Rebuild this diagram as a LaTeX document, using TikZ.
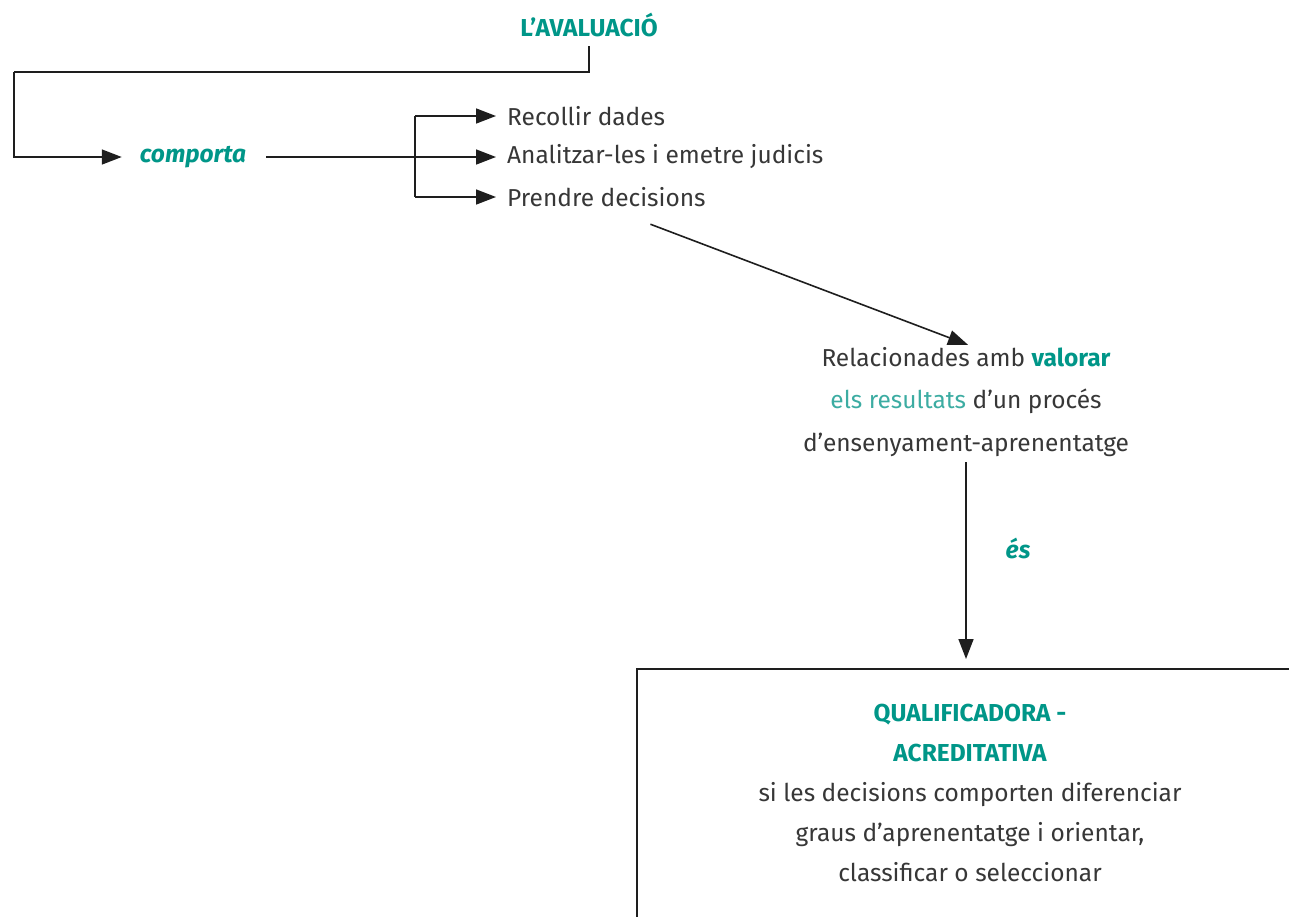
\documentclass[tikz,border=0pt]{standalone}
\usepackage{fontspec}
\setmainfont{Fira Sans}
\usetikzlibrary{arrows.meta,calc}
\definecolor{avteal}{RGB}{0,150,136}
\definecolor{avteallt}{RGB}{60,172,162}
\definecolor{avtext}{RGB}{55,55,55}
\definecolor{avline}{RGB}{30,30,30}
\begin{document}
\begin{tikzpicture}[x=1pt,y=-1pt,
  every node/.style={font=\fontsize{24.5}{28}\selectfont, text=avtext},
  title/.style={font=\fontsize{24.5}{28}\selectfont\bfseries, text=avteal},
  kw/.style={font=\fontsize{24.5}{28}\selectfont\bfseries\itshape, text=avteal},
  item/.style={anchor=west, inner xsep=0pt},
  conn/.style={draw=avline, line width=1.6pt},
  arr/.style={conn, -{Triangle[length=20pt,width=15pt]}},
  boxnode/.style={draw=avline, line width=1.8pt, anchor=north, inner xsep=0pt, inner ysep=35pt, minimum width=666pt},
]
\useasboundingbox (0,0) rectangle (1289,916);
\clip (0,0) rectangle (1289,916);

% nodes
\node[title] (aval) at (589,25) {L’AVALUACIÓ};
\node[kw, inner xsep=16pt] (comp) at (193,157) {comporta};
\node[item] (r1) at (507,116) {Recollir dades};
\node[item] (r2) at (507,157) {Analitzar-les i emetre judicis};
\node[item] (r3) at (507,197) {Prendre decisions};
\node[align=center, font=\fontsize{24.5}{42.5}\selectfont] (rel) at (966,402)
  {Relacionades amb \textcolor{avteal}{\bfseries valorar}\\
   \textcolor{avteallt}{els resultats} d’un procés\\
   d’ensenyament-aprenentatge};
\node[kw] (es) at (1018,548) {és};
\node[boxnode] (box) at (970,668)
  {\begin{minipage}[t][260pt][t]{640pt}\centering\fontsize{24.5}{40}\selectfont
   {\bfseries\color{avteal}QUALIFICADORA -\\ACREDITATIVA}\\
   si les decisions comporten diferenciar\\
   graus d’aprenentatge i orientar,\\
   classificar o seleccionar
   \end{minipage}};

% connectors
\coordinate (c1) at (14,72);
\coordinate (br) at (415,157);
\draw[conn] ([yshift=-6pt]aval.south) |- (c1);
\draw[arr] (c1) |- ([xshift=-2pt]comp.west);
\draw[arr] ([xshift=4pt]comp.east) -- ([xshift=-11pt]r2.west);
\draw[conn] (br |- r1.west) -- (br |- r3.west);
\draw[arr] (br |- r1.west) -- ([xshift=-11pt]r1.west);
\draw[arr] (br |- r3.west) -- ([xshift=-11pt]r3.west);
\draw[arr] ([xshift=44pt,yshift=-14pt]r3.south) -- ([xshift=2pt,yshift=-1pt]rel.north);
\draw[arr] ([yshift=-2pt]rel.south) -- ([yshift=9pt]rel.south |- box.north);
\end{tikzpicture}
\end{document}
